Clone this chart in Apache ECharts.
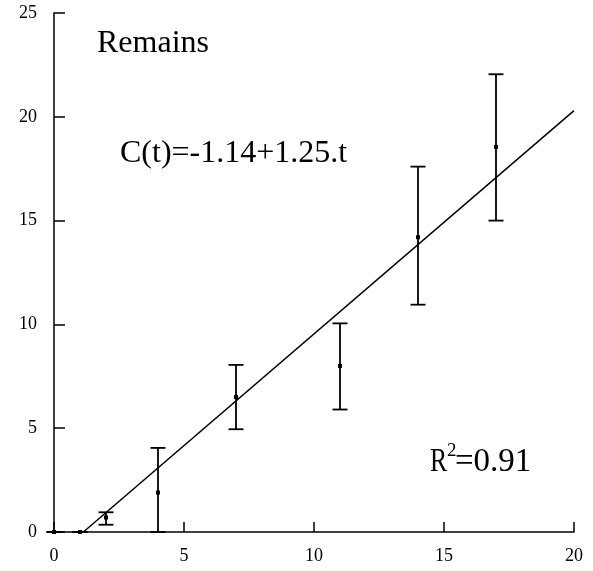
<!DOCTYPE html>
<html>
<head>
<meta charset="utf-8">
<script src="https://cdn.jsdelivr.net/npm/echarts@6/dist/echarts.min.js"></script>
<style>
  html, body { margin: 0; padding: 0; background: #fff; }
  #main { width: 593px; height: 571px; }
</style>
</head>
<body>
<div id="main"></div>
<script>
// sampling times and measured remains, with error bar ends
var times = [0, 1, 2, 4, 7, 11, 14, 17];
var means = [0, 0, 0.7, 1.9, 6.5, 8.0, 14.2, 18.55];
var lows = [0, 0, 0.35, 0, 4.95, 5.9, 10.95, 15.0];
var highs = [0, 0, 0.95, 4.05, 8.05, 10.05, 17.6, 22.05];

// fitted line as drawn
var fitX = [1.13, 20];
var fitY = [0, 20.3];

var xTicks = [0, 5, 10, 15, 20];
var yTicks = [0, 5, 10, 15, 20, 25];

var serif = '"Liberation Serif", "DejaVu Serif", serif';

var chart = echarts.init(document.getElementById('main'));

var points = times.map(function (t, i) {
  return [t, means[i], lows[i], highs[i]];
});
var fit = fitX.map(function (x, i) {
  return [x, fitY[i]];
});

var option = {
  animation: false,
  backgroundColor: '#fff',
  grid: { left: 54, right: 19, top: 13, bottom: 39 },
  xAxis: {
    type: 'value',
    min: xTicks[0],
    max: xTicks[xTicks.length - 1],
    interval: 5,
    axisLine: { lineStyle: { color: '#000', width: 1.5 } },
    axisTick: { inside: true, length: 10, lineStyle: { color: '#000', width: 1.5 } },
    axisLabel: { color: '#000', fontFamily: serif, fontSize: 18, margin: 15 },
    splitLine: { show: false }
  },
  yAxis: {
    type: 'value',
    min: yTicks[0],
    max: yTicks[yTicks.length - 1],
    interval: 5,
    axisLine: { show: true, lineStyle: { color: '#000', width: 1.5 } },
    axisTick: { show: true, inside: true, length: 11, lineStyle: { color: '#000', width: 1.5 } },
    axisLabel: { color: '#000', fontFamily: serif, fontSize: 18, margin: 17, padding: [5, 0, 0, 0] },
    splitLine: { show: false }
  },
  series: [
    {
      type: 'line',
      data: fit,
      symbol: 'none',
      lineStyle: { color: '#000', width: 1.5 },
      z: 2
    },
    {
      type: 'custom',
      data: points,
      clip: false,
      z: 3,
      renderItem: function (params, api) {
        var x = api.value(0);
        var c = api.coord([x, api.value(1)]);
        var lo = api.coord([x, api.value(2)]);
        var hi = api.coord([x, api.value(3)]);
        var w = 7.5;
        var st = { stroke: '#000', lineWidth: 1.8 };
        return {
          type: 'group',
          children: [
            { type: 'line', shape: { x1: c[0], y1: hi[1], x2: c[0], y2: lo[1] }, style: st },
            { type: 'line', shape: { x1: c[0] - w, y1: hi[1], x2: c[0] + w, y2: hi[1] }, style: st },
            { type: 'line', shape: { x1: c[0] - w, y1: lo[1], x2: c[0] + w, y2: lo[1] }, style: st },
            { type: 'rect', shape: { x: c[0] - 2, y: c[1] - 2, width: 4, height: 4 }, style: { fill: '#000' } }
          ]
        };
      }
    }
  ],
  graphic: [
    { type: 'text', left: 97, top: 28, style: { text: 'Remains', font: '32px ' + serif, fill: '#000' } },
    { type: 'text', left: 120, top: 138, style: { text: 'C(t)=-1.14+1.25.t', font: '32px ' + serif, fill: '#000' } },
    { type: 'text', x: 430, y: 446, scaleX: 0.78, style: { text: 'R', font: '33px ' + serif, fill: '#000' } },
    { type: 'text', left: 447, top: 442, style: { text: '2', font: '19px ' + serif, fill: '#000' } },
    { type: 'text', left: 455, top: 446, style: { text: '=0.91', font: '33px ' + serif, fill: '#000' } }
  ]
};

chart.setOption(option);
</script>
</body>
</html>
